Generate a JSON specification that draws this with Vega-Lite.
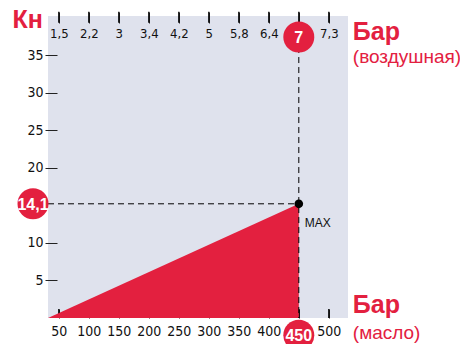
{
  "$schema": "https://vega.github.io/schema/vega-lite/v6.json",
  "width": 300,
  "height": 302,
  "autosize": "none",
  "padding": {"left": 48, "top": 16, "right": 112, "bottom": 26},
  "config": {
    "view": {"fill": "#dfe2ed", "stroke": null},
    "axis": {"labelFont": "DejaVu Sans Condensed, Liberation Sans", "labelFontSize": 14, "labelColor": "#111", "ticks": true, "tickColor": "#222", "tickOpacity": 1, "tickWidth": 1, "domain": false, "grid": false, "title": null, "zindex": 0}
  },
  "resolve": {"axis": {"x": "independent", "y": "independent"}},
  "layer": [
    {
      "data": {"values": [{"v": 50, "lo": 0, "hi": 1.2}, {"v": 100, "lo": 0, "hi": 1.2}, {"v": 150, "lo": 0, "hi": 1.2}, {"v": 200, "lo": 0, "hi": 1.2}, {"v": 250, "lo": 0, "hi": 1.2}, {"v": 300, "lo": 0, "hi": 1.2}, {"v": 350, "lo": 0, "hi": 1.2}, {"v": 400, "lo": 0, "hi": 1.2}, {"v": 450, "lo": 0, "hi": 1.2}, {"v": 500, "lo": 0, "hi": 1.2},
        {"v": 50, "lo": 39.3, "hi": 40.75}, {"v": 100, "lo": 39.3, "hi": 40.75}, {"v": 150, "lo": 39.3, "hi": 40.75}, {"v": 200, "lo": 39.3, "hi": 40.75}, {"v": 250, "lo": 39.3, "hi": 40.75}, {"v": 300, "lo": 39.3, "hi": 40.75}, {"v": 350, "lo": 39.3, "hi": 40.75}, {"v": 400, "lo": 39.3, "hi": 40.75}, {"v": 450, "lo": 39.3, "hi": 40.75}, {"v": 500, "lo": 39.3, "hi": 40.75}]},
      "mark": {"type": "rule", "color": "#000", "strokeWidth": 1.3, "opacity": 1},
      "encoding": {
        "x": {"field": "v", "type": "quantitative", "scale": {"domain": [32, 532], "nice": false, "zero": false}, "axis": null},
        "y": {"field": "lo", "type": "quantitative", "scale": {"domain": [0, 40.2], "nice": false, "zero": false}, "axis": null},
        "y2": {"field": "hi"}
      }
    },
    {
      "data": {"values": [{"x": 32, "y": 0}, {"x": 450, "y": 15.2}]},
      "mark": {"type": "area", "color": "#e3203f"},
      "encoding": {
        "x": {"field": "x", "type": "quantitative", "scale": {"domain": [32, 532], "nice": false, "zero": false},
          "axis": {"orient": "bottom", "values": [50, 100, 150, 200, 250, 300, 350, 400, 450, 500], "offset": -9, "tickSize": 9, "labelPadding": 6, "labelExpr": "datum.value == 450 ? '' : datum.label"}},
        "y": {"field": "y", "type": "quantitative", "scale": {"domain": [0, 40.2], "nice": false, "zero": false},
          "axis": {"orient": "left", "values": [5, 10, 20, 25, 30, 35], "offset": -9, "tickSize": 12, "labelPadding": 2}}
      }
    },
    {
      "data": {"values": [{"x": 450, "y": 37.4, "y2": 0}]},
      "mark": {"type": "rule", "color": "#000", "strokeWidth": 1, "strokeDash": [6, 4]},
      "encoding": {
        "x": {"field": "x", "type": "quantitative", "scale": {"domain": [32, 532], "nice": false, "zero": false},
          "axis": {"orient": "top", "values": [50, 100, 150, 200, 250, 300, 350, 400, 450, 500], "offset": -7, "tickSize": 11, "labelPadding": -21, "labelBaseline": "middle", "labelFontSize": 13,
            "labelExpr": "datum.value == 50 ? '1,5' : datum.value == 100 ? '2,2' : datum.value == 150 ? '3' : datum.value == 200 ? '3,4' : datum.value == 250 ? '4,2' : datum.value == 300 ? '5' : datum.value == 350 ? '5,8' : datum.value == 400 ? '6,4' : datum.value == 500 ? '7,3' : ''"}},
        "y": {"field": "y", "type": "quantitative", "scale": {"domain": [0, 40.2], "nice": false, "zero": false}, "axis": null},
        "y2": {"field": "y2"}
      }
    },
    {
      "data": {"values": [{"x": 32, "x2": 450, "y": 15.2}]},
      "mark": {"type": "rule", "color": "#000", "strokeWidth": 1, "strokeDash": [6, 4]},
      "encoding": {
        "x": {"field": "x", "type": "quantitative", "scale": {"domain": [32, 532], "nice": false, "zero": false}, "axis": null},
        "x2": {"field": "x2"},
        "y": {"field": "y", "type": "quantitative", "scale": {"domain": [0, 40.2], "nice": false, "zero": false}, "axis": null}
      }
    },
    {
      "data": {"values": [{"x": 450, "y": 15.2}]},
      "mark": {"type": "point", "filled": true, "color": "#000", "size": 75, "opacity": 1},
      "encoding": {
        "x": {"field": "x", "type": "quantitative", "scale": {"domain": [32, 532], "nice": false, "zero": false}, "axis": null},
        "y": {"field": "y", "type": "quantitative", "scale": {"domain": [0, 40.2], "nice": false, "zero": false}, "axis": null}
      }
    },
    {
      "data": {"values": [{"x": 450, "y": 37.4, "label": "7"}, {"x": 7, "y": 15.2, "label": "14,1"}, {"x": 450, "y": -2.3, "label": "450"}]},
      "encoding": {
        "x": {"field": "x", "type": "quantitative", "scale": {"domain": [32, 532], "nice": false, "zero": false}, "axis": null},
        "y": {"field": "y", "type": "quantitative", "scale": {"domain": [0, 40.2], "nice": false, "zero": false}, "axis": null}
      },
      "layer": [
        {"mark": {"type": "point", "filled": true, "color": "#e3203f", "size": 960, "opacity": 1}},
        {"mark": {"type": "text", "color": "#fff", "font": "Liberation Sans", "fontWeight": "bold", "fontSize": 16, "align": "center", "baseline": "middle", "dy": 1}, "encoding": {"text": {"field": "label"}}}
      ]
    },
    {
      "data": {"values": [{"x": 540, "y": 37.0, "text": "Бар"}, {"x": 540, "y": 0.63, "text": "Бар"}]},
      "mark": {"type": "text", "color": "#e3203f", "font": "Liberation Sans", "fontWeight": "bold", "fontSize": 25, "align": "left", "baseline": "alphabetic"},
      "encoding": {
        "x": {"field": "x", "type": "quantitative", "scale": {"domain": [32, 532], "nice": false, "zero": false}, "axis": null},
        "y": {"field": "y", "type": "quantitative", "scale": {"domain": [0, 40.2], "nice": false, "zero": false}, "axis": null},
        "text": {"field": "text"}
      }
    },
    {
      "data": {"values": [{"x": 540, "y": 34.0, "text": "(воздушная)"}, {"x": 540, "y": -2.73, "text": "(масло)"}]},
      "mark": {"type": "text", "color": "#e3203f", "font": "Liberation Sans", "fontSize": 19, "align": "left", "baseline": "alphabetic"},
      "encoding": {
        "x": {"field": "x", "type": "quantitative", "scale": {"domain": [32, 532], "nice": false, "zero": false}, "axis": null},
        "y": {"field": "y", "type": "quantitative", "scale": {"domain": [0, 40.2], "nice": false, "zero": false}, "axis": null},
        "text": {"field": "text"}
      }
    },
    {
      "data": {"values": [{"x": -27.2, "y": 38.55, "text": "Кн"}]},
      "mark": {"type": "text", "color": "#e3203f", "font": "Liberation Sans", "fontWeight": "bold", "fontSize": 25, "align": "left", "baseline": "alphabetic"},
      "encoding": {
        "x": {"field": "x", "type": "quantitative", "scale": {"domain": [32, 532], "nice": false, "zero": false}, "axis": null},
        "y": {"field": "y", "type": "quantitative", "scale": {"domain": [0, 40.2], "nice": false, "zero": false}, "axis": null},
        "text": {"field": "text"}
      }
    },
    {
      "data": {"values": [{"x": 460, "y": 12.07, "text": "MAX"}]},
      "mark": {"type": "text", "color": "#111", "font": "Liberation Sans", "fontSize": 12, "align": "left", "baseline": "alphabetic"},
      "encoding": {
        "x": {"field": "x", "type": "quantitative", "scale": {"domain": [32, 532], "nice": false, "zero": false}, "axis": null},
        "y": {"field": "y", "type": "quantitative", "scale": {"domain": [0, 40.2], "nice": false, "zero": false}, "axis": null},
        "text": {"field": "text"}
      }
    }
  ]
}
